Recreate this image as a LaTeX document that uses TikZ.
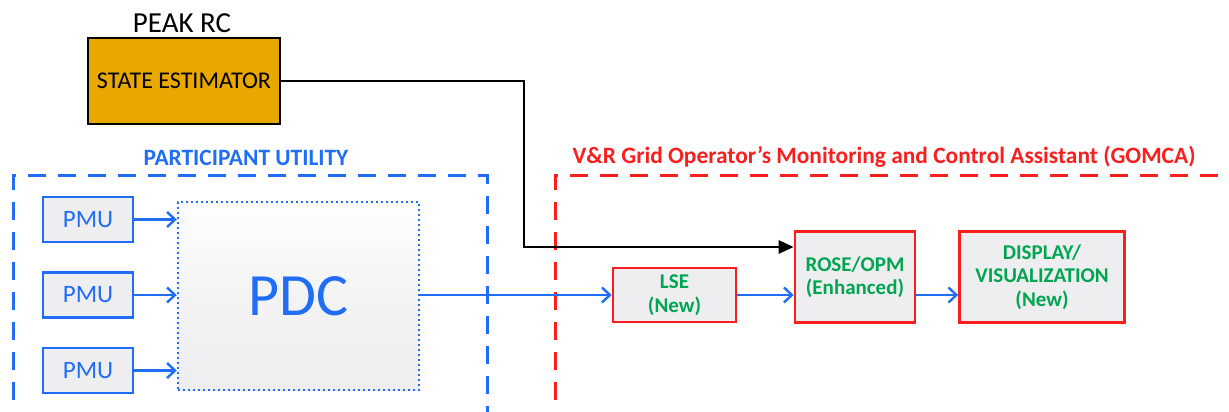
\documentclass[tikz,border=0pt]{standalone}
\usepackage{fontspec}
\setmainfont{Carlito}
\usetikzlibrary{arrows.meta}
\definecolor{cblue}{RGB}{31,110,245}
\definecolor{cred}{RGB}{250,30,30}
\definecolor{cgreen}{RGB}{0,165,80}
\definecolor{corange}{RGB}{232,168,0}
\definecolor{cfill}{RGB}{238,238,240}
\tikzset{
  sebox/.style={draw=black, line width=2.6pt, fill=corange, minimum width=192pt, minimum height=86pt, inner sep=0pt, font=\fontsize{24}{28}\selectfont},
  pmubox/.style={draw=cblue, line width=2.6pt, fill=cfill, minimum width=90pt, minimum height=45pt, inner sep=0pt, text=cblue, font=\fontsize{25}{28}\selectfont},
  pdcbox/.style={draw=cblue, line width=2.4pt, dash pattern=on 2pt off 3pt, top color=white, bottom color=cfill, middle color=cfill!70, minimum width=241pt, minimum height=188pt, inner sep=0pt, text=cblue, font=\fontsize{60}{62}\selectfont},
  gbox/.style={draw=cred, line width=2.6pt, fill=cfill, inner sep=0pt, align=center, text=cgreen, font=\fontsize{21}{23.5}\selectfont\bfseries},
  bluearr/.style={draw=cblue, line width=2.4pt, -{Straight Barb[length=8pt,width=15pt,line width=2.4pt]}},
  blkarr/.style={draw=black, line width=2.6pt, -{Triangle[length=15pt,width=13pt]}},
  bluedash/.style={draw=cblue, line width=3pt, dash pattern=on 18pt off 12pt},
  reddash/.style={draw=cred, line width=3pt, dash pattern=on 18pt off 12pt},
}
\begin{document}
\begin{tikzpicture}[x=1pt,y=-1pt]
\useasboundingbox (0,0) rectangle (1229,412);
\clip (0,0) rectangle (1229,412);
% group frames
\draw[bluedash] (13,430) -- (13,175) -- (487,175) -- (487,430);
\draw[reddash] (555,430) -- (555,175) -- (1260,175);
\node[text=cblue, font=\fontsize{23.4}{26}\selectfont\bfseries] (pulab) at (246,158) {PARTICIPANT UTILITY};
\node[text=cred, font=\fontsize{23.4}{26}\selectfont\bfseries] (golab) at (884,157) {V\&R Grid Operator’s Monitoring and Control Assistant (GOMCA)};
% peak rc
\node[font=\fontsize{29}{32}\selectfont] (peak) at (182,23) {PEAK RC};
\node[sebox] (se) at (184,81) {STATE ESTIMATOR};
% utility
\node[pmubox] (pmu1) at (88,219.5) {PMU};
\node[pmubox] (pmu2) at (88,295) {PMU};
\node[pmubox] (pmu3) at (88,370.5) {PMU};
\node[pdcbox] (pdc) at (298.5,296) {PDC};
% gomca
\node[gbox, minimum width=123pt, minimum height=54pt] (lse) at (674.5,295) {LSE\\(New)};
\node[gbox, minimum width=120pt, minimum height=91pt] (rose) at (855,277) {ROSE/OPM\\(Enhanced)};
\node[gbox, minimum width=165pt, minimum height=91pt] (disp) at (1042,277) {DISPLAY/\\VISUALIZATION\\(New)};
% connectors
\draw[bluearr] (pmu1.east) -- (pmu1.east -| pdc.west);
\draw[bluearr] (pmu2.east) -- (pmu2.east -| pdc.west);
\draw[bluearr] (pmu3.east) -- (pmu3.east -| pdc.west);
\draw[bluearr] (pdc.east |- lse.west) -- (lse.west);
\draw[bluearr] (lse.east) -- (lse.east -| rose.west);
\draw[bluearr] (rose.east |- lse.east) -- (disp.west |- lse.east);
\coordinate (bend) at (524,247);
\draw[blkarr] (se.east) -| (bend) -- (rose.west |- bend);
\end{tikzpicture}
\end{document}
